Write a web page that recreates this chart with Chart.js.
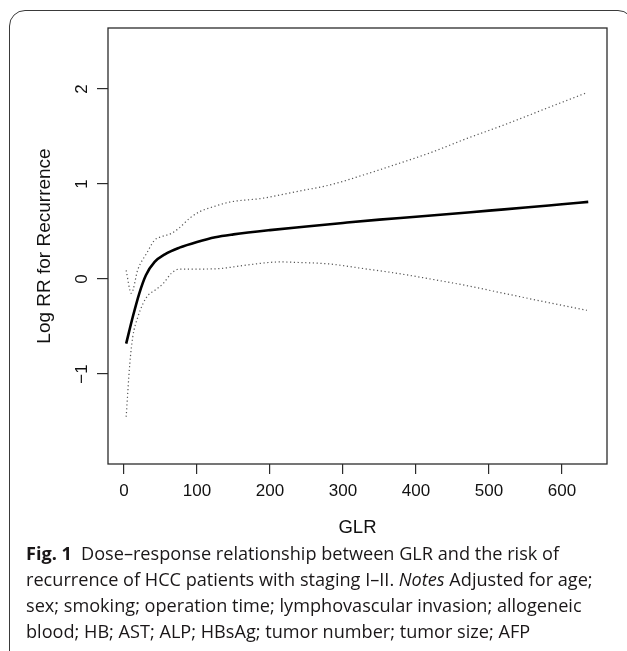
<!DOCTYPE html>
<html><head><meta charset="utf-8">
<script src="https://cdn.jsdelivr.net/npm/chart.js@4.4.1/dist/chart.umd.min.js"></script>
<style>
html,body{margin:0;padding:0;background:#fff;width:627px;height:651px;overflow:hidden;}
#frame{position:absolute;left:9px;top:10px;width:625px;height:700px;border:1.3px solid #3a3a3a;border-radius:16px;box-sizing:border-box;}
#c{position:absolute;left:0;top:0;}
#cap{position:absolute;left:26px;top:540px;font-family:"Open Sans",sans-serif;color:#1a1718;font-size:16.5px;line-height:26px;white-space:nowrap;}
#cap b{font-weight:700;}
</style></head><body>
<div id="frame"></div>
<canvas id="c" width="627" height="651"></canvas>
<div id="cap">
<div class="ln" id="l1"><b>Fig. 1</b>&ensp;Dose–response relationship between GLR and the risk of</div>
<div class="ln" id="l2">recurrence of HCC patients with staging I–II. <i>Notes</i> Adjusted for age;</div>
<div class="ln" id="l3">sex; smoking; operation time; lymphovascular invasion; allogeneic</div>
<div class="ln" id="l4">blood; HB; AST; ALP; HBsAg; tumor number; tumor size; AFP</div>
</div>
<script>
// ---- data ----
const estX = [3, 12, 21, 30, 42, 56, 76, 100, 125, 150, 200, 250, 300, 350, 400, 450, 500, 550, 600, 636];
const estY = [-0.68, -0.40, -0.15, 0.04, 0.18, 0.26, 0.33, 0.39, 0.44, 0.47, 0.515, 0.553, 0.59, 0.625, 0.655, 0.687, 0.72, 0.752, 0.787, 0.812];

const upperX = [3, 10, 19, 31, 42, 51, 65, 76, 90, 104, 122, 145, 190, 236, 282, 328, 374, 420, 470, 520, 570, 632];
const upperY = [0.09, -0.15, 0.10, 0.27, 0.41, 0.445, 0.48, 0.54, 0.64, 0.71, 0.76, 0.81, 0.85, 0.92, 0.99, 1.095, 1.21, 1.33, 1.48, 1.62, 1.77, 1.955];

const lowerX = [3, 8, 12, 19, 26, 33, 42, 54, 65, 76, 104, 131, 168, 214, 236, 282, 328, 374, 420, 470, 520, 570, 634];
const lowerY = [-1.45, -0.89, -0.61, -0.40, -0.26, -0.17, -0.12, -0.045, 0.06, 0.105, 0.105, 0.11, 0.147, 0.18, 0.175, 0.158, 0.11, 0.06, 0.0, -0.07, -0.15, -0.23, -0.33];

const xTicks = [0, 100, 200, 300, 400, 500, 600];
const yTicks = [-1, 0, 1, 2];
const yTickLabels = ["\u22121", "0", "1", "2"];
const xTitle = "GLR";
const yTitle = "Log RR for Recurrence";

// ---- chart ----
const pts = (xs, ys) => xs.map((x, i) => ({x: x, y: ys[i]}));
const axisFont = {family: "'Liberation Sans', Arial, sans-serif", size: 17};
const titleFont = {family: "'Liberation Sans', Arial, sans-serif", size: 18.5};

const boxPlugin = {
  id: 'box',
  afterDraw(chart) {
    const {ctx, chartArea: a} = chart;
    const ys = chart.scales.y;
    ctx.save();
    ctx.strokeStyle = '#2b2b2b';
    ctx.lineWidth = 1.3;
    ctx.strokeRect(a.left, a.top, a.right - a.left, a.bottom - a.top);
    // rotated y tick labels (R style)
    ctx.fillStyle = '#111';
    ctx.font = axisFont.size + "px " + axisFont.family;
    ctx.textAlign = 'center';
    ctx.textBaseline = 'middle';
    yTicks.forEach((v, i) => {
      const py = ys.getPixelForValue(v);
      ctx.save();
      ctx.translate(ys.right - 26, py);
      ctx.rotate(-Math.PI / 2);
      ctx.fillText(yTickLabels[i], 0, 0);
      ctx.restore();
    });
    ctx.restore();
  }
};

new Chart(document.getElementById('c'), {
  type: 'line',
  data: {
    datasets: [
      {label: 'Upper', data: pts(upperX, upperY), borderColor: '#555', borderWidth: 1.2, borderDash: [1.2, 2.6],
       pointRadius: 0, cubicInterpolationMode: 'monotone', fill: false},
      {label: 'Lower', data: pts(lowerX, lowerY), borderColor: '#555', borderWidth: 1.2, borderDash: [1.2, 2.6],
       pointRadius: 0, cubicInterpolationMode: 'monotone', fill: false},
      {label: 'Log RR', data: pts(estX, estY), borderColor: '#000', borderWidth: 2.6,
       pointRadius: 0, cubicInterpolationMode: 'monotone', fill: false}
    ]
  },
  options: {
    responsive: false, animation: false, devicePixelRatio: 1,
    layout: {padding: {left: 0, top: 28, right: 20, bottom: 107}},
    plugins: {legend: {display: false}, tooltip: {enabled: false}},
    scales: {
      x: {
        type: 'linear', min: -21.9, max: 661.7,
        afterBuildTicks: s => { s.ticks = xTicks.map(v => ({value: v})); },
        afterFit: s => { s.height = 80; },
        grid: {drawOnChartArea: false, drawTicks: true, tickLength: 10, color: '#2b2b2b', lineWidth: 1.2},
        border: {display: false},
        ticks: {font: axisFont, color: '#111', padding: 7, maxRotation: 0, autoSkip: false},
        title: {display: true, text: xTitle, font: titleFont, color: '#111', padding: {top: 0, bottom: 5}}
      },
      y: {
        type: 'linear', min: -1.947, max: 2.642,
        afterBuildTicks: s => { s.ticks = yTicks.map(v => ({value: v})); },
        afterFit: s => { s.width = 108; },
        grid: {drawOnChartArea: false, drawTicks: true, tickLength: 11, color: '#2b2b2b', lineWidth: 1.2},
        border: {display: false},
        ticks: {display: false},
        title: {display: true, text: yTitle, font: {family: titleFont.family, size: 19}, color: '#111', padding: {top: 33.5, bottom: 0}}
      }
    }
  },
  plugins: [boxPlugin]
});

// fit caption width to the reference
(function(){
  const cap = document.getElementById('cap');
  const l2 = document.getElementById('l2');
  const target = 567;
  const w = l2.getBoundingClientRect().width;
  const fs = 16.5 * target / w;
  cap.style.fontSize = fs.toFixed(2) + 'px';
})();
</script>
</body></html>
